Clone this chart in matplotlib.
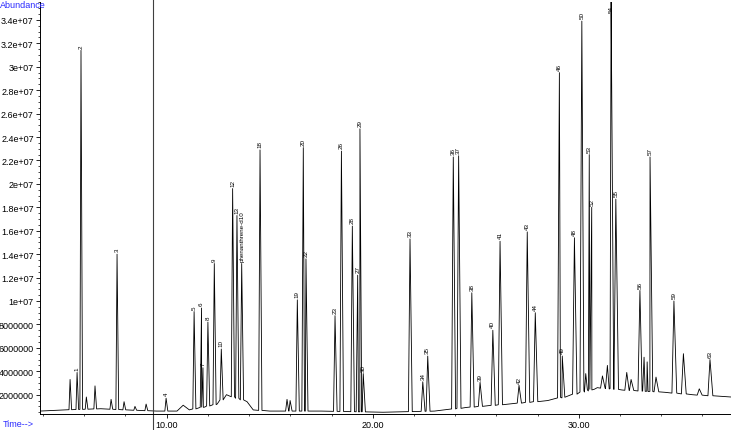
import numpy as np
import matplotlib
matplotlib.use('Agg')
import matplotlib.pyplot as plt
import matplotlib.transforms as mtransforms
from matplotlib.ticker import MultipleLocator, FuncFormatter

plt.rcParams['font.family'] = ['Liberation Sans', 'DejaVu Sans']

# Peak table: retention time (min), abundance (x1e6), label
peak_times = [5.31, 5.65, 5.84, 6.10, 6.52, 7.30, 7.59, 7.93, 8.46, 9.00,
              9.97, 11.33, 11.69, 11.76, 12.00, 12.31, 12.65, 13.20, 13.41, 13.64,
              14.53, 15.84, 15.99, 16.34, 16.63, 16.76, 18.17, 18.48, 19.01, 19.27,
              19.38, 19.54, 21.81, 22.43, 22.67, 23.91, 24.17, 24.81, 25.21, 25.83,
              26.18, 27.10, 27.50, 27.89, 29.06, 29.20, 29.79, 30.15, 30.34, 30.51,
              30.63, 31.15, 31.39, 31.57, 31.80, 32.33, 32.54, 32.97, 33.17, 33.32,
              33.46, 33.75, 34.62, 35.08, 35.85, 36.37]
peak_heights = [3.3, 3.9, 31.4, 1.8, 2.75, 1.6, 14.0, 1.4, 1.0, 1.2,
                1.7, 9.1, 9.4, 4.3, 8.2, 13.2, 5.9, 19.6, 17.3, 13.2,
                22.9, 1.6, 1.5, 10.1, 23.1, 13.6, 8.75, 22.8, 16.4, 12.2,
                24.7, 3.8, 15.3, 3.1, 5.3, 22.3, 22.4, 10.7, 3.05, 7.5,
                15.1, 2.8, 15.9, 9.0, 29.5, 5.3, 15.4, 33.9, 3.8, 22.5,
                18.0, 3.6, 4.5, 35.9, 18.7, 3.9, 3.3, 10.9, 5.2, 4.8,
                22.3, 3.5, 10.0, 5.5, 2.5, 5.0]
peak_labels = ['', '1', '2', '', '', '', '3', '', '', '',
               '4', '5', '6', '7', '8', '9', '10', '12', '13', 'phenanthrene-d10',
               '18', '', '', '19', '20', '22', '23', '26', '28', '27',
               '29', '30', '33', '34', '35', '36', '37', '38', '39', '40',
               '41', '42', '43', '44', '46', '49', '48', '50', '', '53',
               '52', '', '', '54', '55', '', '', '56', '', '',
               '57', '', '59', '', '', '63']

# baseline level between peaks (x1e6)
base_times = [3.85, 5.0, 6.8, 8.0, 9.5, 10.5, 10.8, 11.1, 12.45, 12.9, 13.9, 14.2,
              15.0, 17.5, 20.5, 23.0, 24.5, 26.6, 28.5, 29.5, 30.9, 32.1,
              34.2, 35.5, 37.4]
base_levels = [0.6, 0.7, 0.8, 0.7, 0.6, 0.6, 1.1, 0.7, 1.2, 2.0, 1.4, 0.7,
               0.6, 0.6, 0.5, 0.6, 0.9, 1.2, 1.5, 1.9, 2.6, 2.4,
               2.2, 2.0, 1.8]

solvent_cut = 9.35

# build trace: baseline knots plus a narrow spike for every peak
pts = []
for bt, bv in zip(base_times, base_levels):
    if all(abs(bt - t) > 0.09 for t in peak_times):
        pts.append((bt, bv))
for t, h in zip(peak_times, peak_heights):
    b = np.interp(t, base_times, base_levels)
    w = 0.045 + 0.0015 * t
    pts += [(t - w, b), (t, h), (t + w * 1.4, b)]
pts.sort()
tt, yy = np.array(pts).T

fig = plt.figure(figsize=(7.31, 4.31), dpi=100)
ax = fig.add_axes([40 / 731, 16 / 431, 691 / 731, 412 / 431])

ax.plot(tt, yy * 1e6, color='black', lw=0.6)

for t, h, lab in zip(peak_times, peak_heights, peak_labels):
    if not lab:
        continue
    ax.annotate(lab, (t, min(h, 34.4) * 1e6), xytext=(0, 2), textcoords='offset points',
                rotation=90, ha='center', va='bottom', fontsize=4.5, annotation_clip=False)

trans = mtransforms.blended_transform_factory(ax.transData, ax.transAxes)
ax.plot([solvent_cut, solvent_cut], [-0.04, 1.01], transform=trans, color='#404040',
        lw=0.8, clip_on=False)

ax.set_xlim(3.85, 37.39)
ax.set_ylim(0.35e6, 35.53e6)
for s in ['top', 'right']:
    ax.spines[s].set_visible(False)
for s in ['left', 'bottom']:
    ax.spines[s].set_linewidth(0.7)

ax.xaxis.set_major_locator(MultipleLocator(10))
ax.xaxis.set_minor_locator(MultipleLocator(2))
ax.xaxis.set_major_formatter(FuncFormatter(lambda v, p: '%.2f' % v))
ax.yaxis.set_major_locator(MultipleLocator(2e6))
ax.yaxis.set_minor_locator(MultipleLocator(0.5e6))
ax.yaxis.set_major_formatter(FuncFormatter(lambda v, p: '%d' % v if v < 1e7 else '%g' % v))
ax.tick_params(which='major', length=3, width=0.6, labelsize=6.5, pad=1.5)
ax.tick_params(which='minor', length=1.5, width=0.5)

fig.text(0.0, 1 - 6 / 431, 'Abundance', color='#2a2aff', fontsize=6.5, ha='left', va='center')
fig.text(3 / 731, 1 - 425 / 431, 'Time-->', color='#2a2aff', fontsize=6.5, ha='left', va='center')

fig.savefig('out.png', dpi=100)
